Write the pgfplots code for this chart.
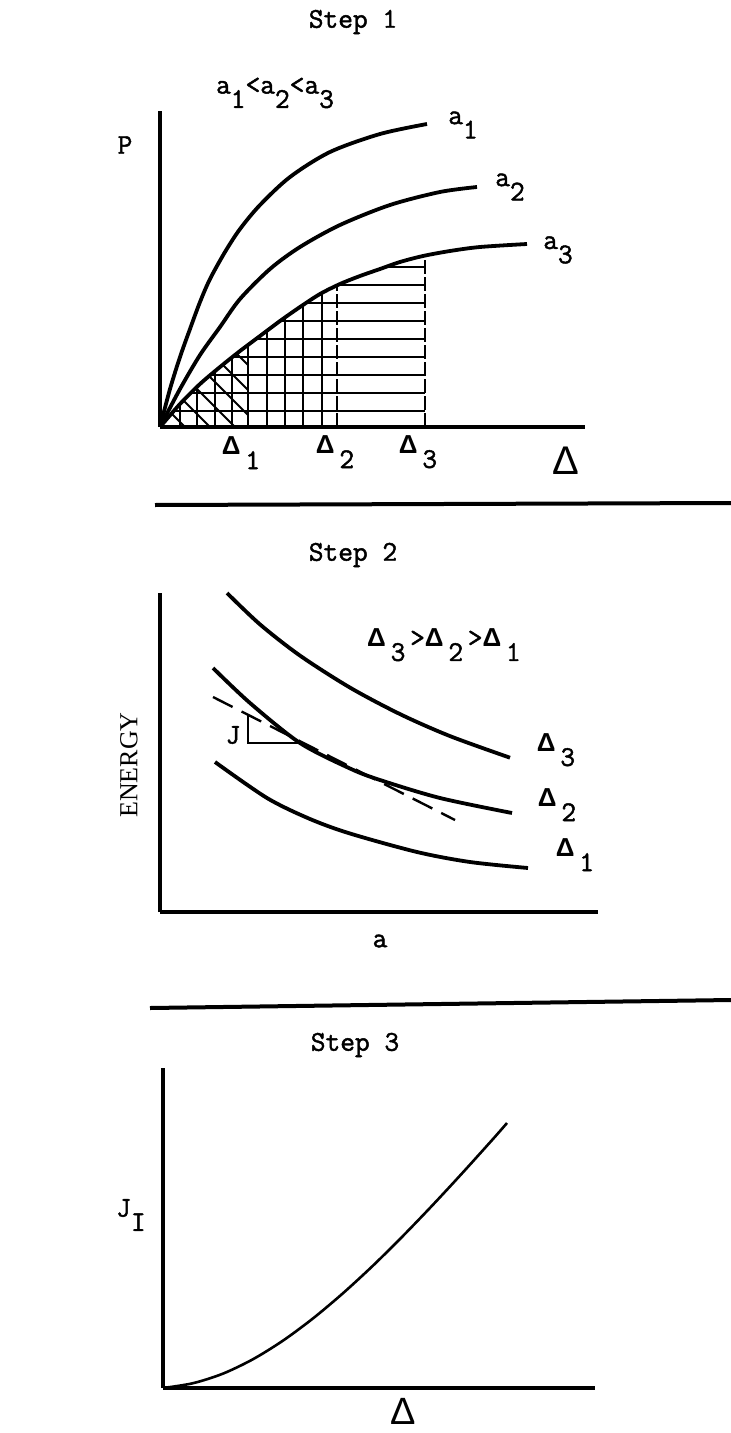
\documentclass[border=0pt]{standalone}
\usepackage{fontspec}
\usepackage{pgfplots}
\pgfplotsset{compat=1.18}
\newfontfamily\tw{Latin Modern Mono}[FakeBold=1.6]
\newfontfamily\sff{Liberation Sans}
\newfontfamily\srf{Liberation Serif}
\newcommand\sub[1]{\raisebox{-0.5em}{#1}}
\newcommand\D{{\fontsize{13}{15}\selectfont\sff\bfseries Δ}}
\newcommand\BD{{\fontsize{20}{20}\selectfont\sff Δ}}
\tikzset{lab/.style={font=\fontsize{14.3}{16}\selectfont\tw, inner sep=0pt}}
\pgfplotsset{
 sk/.style={anchor=south west, x=0.5pt, y=0.5pt, xmin=0, ymin=0,
   axis lines=left, axis line style={-, line width=1.7pt},
   ticks=none, clip=false, enlargelimits=false},
 crv/.style={line width=1.9pt, black, smooth, no marks},
 hatch/.style={line width=1pt, black, no marks, unbounded coords=jump},
}
\begin{document}
\begin{tikzpicture}
\path[use as bounding box] (0,0) rectangle (365.5pt,-716.5pt);
\node[lab] at (176.5pt,-11pt) {Step 1};
\node[lab] at (176.5pt,-277.5pt) {Step 2};
\node[lab] at (177.5pt,-522.5pt) {Step 3};
\draw[line width=2pt] (77.5pt,-252.5pt) -- (365.5pt,-251.5pt);
\draw[line width=2pt] (75pt,-504pt) -- (365.5pt,-500pt);

% ---------- Step 1 ----------
\begin{axis}[sk, at={(80pt,-213.5pt)}, xmax=425, ymax=316]
\addplot[crv] coordinates {(0,0)(10,38)(20,70)(30,98)(40,125)(50,148)(65,175)(80,198)(100,222)(130,250)(170,275)(220,293)(267,303)};
\addplot[crv] coordinates {(0,0)(20,38)(40,72)(60,100)(80,128)(110,158)(140,180)(180,202)(230,222)(280,235)(317,240)};
\addplot[crv] coordinates {(0,0)(20,23)(40,43)(60,60)(80,76)(100,91)(120,106)(140,120)(160,133)(180,143)(200,151)(220,158)(240,165)(263,171)(290,176)(320,180)(367,183)};
% horizontal hatch up to Delta_3
\addplot[hatch] coordinates {(13.9,16)(265,16) (nan,nan) (31,34)(265,34) (nan,nan) (50.6,52)(265,52) (nan,nan) (72.5,70)(265,70) (nan,nan) (96,88)(265,88) (nan,nan) (120,106)(265,106) (nan,nan) (146,124)(265,124) (nan,nan) (178,142)(265,142) (nan,nan) (225.7,160)(265,160)};
% vertical hatch up to Delta_2
\addplot[hatch] coordinates {(20,0)(20,23) (nan,nan) (37,0)(37,40) (nan,nan) (55,0)(55,55.7) (nan,nan) (72,0)(72,69.6) (nan,nan) (88,0)(88,82) (nan,nan) (107,0)(107,96.2) (nan,nan) (125,0)(125,109.5) (nan,nan) (143,0)(143,122) (nan,nan) (162,0)(162,134)};
% diagonal hatch up to Delta_1
\addplot[hatch] coordinates {(11.6,13.4)(25,0) (nan,nan) (23.5,26.5)(50,0) (nan,nan) (36,39)(75,0) (nan,nan) (49.2,50.8)(88,12) (nan,nan) (62.8,62.2)(88,37) (nan,nan) (76.7,73.3)(88,62)};
% dashed verticals at Delta_2, Delta_3
\addplot[hatch, dash pattern=on 7pt off 1.5pt] coordinates {(177,0)(177,141.5)};
\addplot[hatch, dash pattern=on 7pt off 1.5pt] coordinates {(265,0)(265,171.4)};
\node[lab] at (axis cs:303,302) {a\sub{1}};
\node[lab] at (axis cs:350,240) {a\sub{2}};
\node[lab] at (axis cs:398,177) {a\sub{3}};
\node[lab] at (axis cs:-35,282) {P};
\node[lab] at (axis cs:115,334) {a\sub{1}<a\sub{2}<a\sub{3}};
\node[lab] at (axis cs:81,-26) {\D\,\sub{1}};
\node[lab] at (axis cs:175,-25) {\D\,\sub{2}};
\node[lab] at (axis cs:258,-25) {\D\,\sub{3}};
\node[inner sep=0pt] at (axis cs:406,-34) {\BD};
\end{axis}

% ---------- Step 2 ----------
\begin{axis}[sk, at={(80pt,-456pt)}, xmax=438, ymax=319]
\addplot[crv] coordinates {(67,319)(100,287.6)(140,256.4)(190,224.4)(240,197.9)(290,175.9)(350,154.3)};
\addplot[crv] coordinates {(53,244)(90,209)(140,169)(190,143.5)(220,132)(280,114)(352,99)};
\addplot[crv] coordinates {(55,150)(107,114)(150,93)(190,78.5)(257,60)(310,50)(368,44)};
\addplot[line width=1.2pt, black, no marks, dash pattern=on 11pt off 5pt] coordinates {(53,215)(295,92)};
\addplot[line width=0.9pt, black, no marks] coordinates {(88,197)(88,169)(140,169)};
\node[lab] at (axis cs:73,177) {J};
\node[lab] at (axis cs:396,162) {\D\,\sub{3}};
\node[lab] at (axis cs:397,107) {\D\,\sub{2}};
\node[lab] at (axis cs:415,57) {\D\,\sub{1}};
\node[lab] at (axis cs:284,267) {\D\,\sub{3}\,>\D\,\sub{2}\,>\D\,\sub{1}};
\node[inner sep=0pt, rotate=90, font=\fontsize{13}{15}\selectfont\srf] at (axis cs:-31,147) {ENERGY};
\node[lab] at (axis cs:220,-29) {a};
\end{axis}

% ---------- Step 3 ----------
\begin{axis}[sk, at={(81.5pt,-694pt)}, xmax=432, ymax=320, axis line style={-, line width=2pt}]
\addplot[line width=1.3pt, black, smooth, no marks] coordinates {(0,0)(30,4.8)(60,14.4)(90,28.8)(120,47.4)(150,69.6)(180,94.8)(210,122.4)(240,152.1)(270,183.3)(300,215.7)(330,249)(344,265)};
\node[lab] at (axis cs:-32,173) {J\sub{I}};
\node[inner sep=0pt] at (axis cs:240,-23) {\fontsize{19}{19}\selectfont\sff Δ};
\end{axis}
\end{tikzpicture}
\end{document}
